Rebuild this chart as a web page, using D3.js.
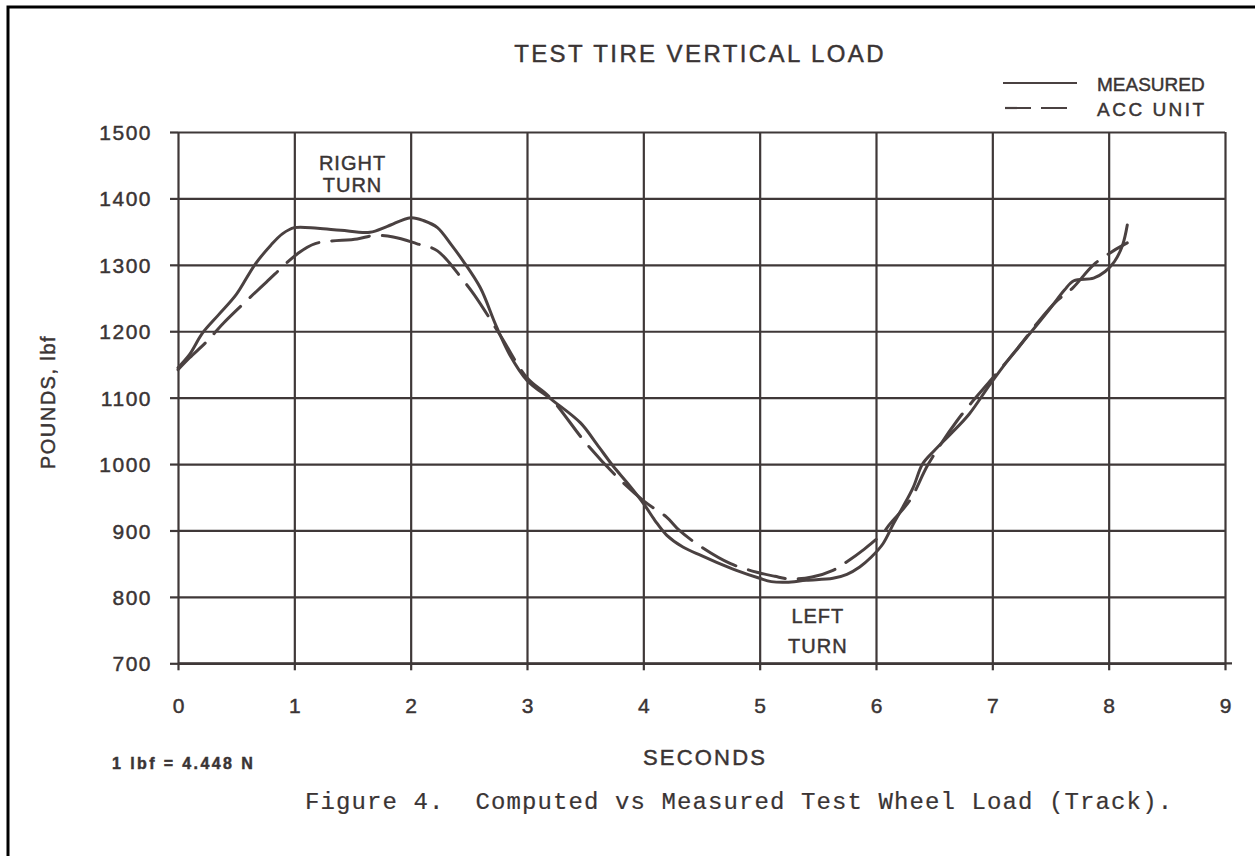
<!DOCTYPE html>
<html><head><meta charset="utf-8">
<script src="https://cdn.jsdelivr.net/npm/d3@7"></script>
<style>
html,body{margin:0;padding:0;background:#fff;}
svg{display:block;}
text{font-family:"Liberation Sans",Arial,sans-serif;fill:#3a3434;stroke:#3a3434;stroke-width:0.45px;}
</style></head>
<body>
<svg id="chart" width="1255" height="856"></svg>
<script>
// ---- data ----
const measuredT = [0.0,0.1,0.21,0.35,0.5,0.66,0.8,0.9,1.0,1.2,1.4,1.65,1.8,2.0,2.12,2.23,2.35,2.45,2.6,2.73,2.85,3.0,3.22,3.46,3.6,3.74,3.87,4.0,4.1,4.2,4.34,4.5,4.63,4.8,5.0,5.1,5.23,5.4,5.63,5.75,5.86,5.96,6.06,6.15,6.23,6.32,6.4,6.5,6.64,6.8,6.98,7.15,7.32,7.5,7.62,7.7,7.87,7.97,8.05,8.12,8.16];
const measuredLoad = [1145,1165,1197,1225,1255,1300,1330,1347,1356,1355,1352,1349,1358,1371,1366,1356,1330,1306,1265,1210,1165,1126,1096,1062,1030,997,970,941,915,893,875,862,852,840,828,823,822,825,828,834,845,860,880,910,935,965,1000,1020,1045,1075,1120,1160,1196,1235,1262,1276,1280,1290,1305,1330,1360];
const accT = [0.0,0.1,0.25,0.39,0.62,0.76,1.03,1.18,1.54,1.68,1.85,2.05,2.23,2.45,2.55,2.77,3.0,3.2,3.5,3.75,4.0,4.2,4.31,4.5,4.75,5.0,5.13,5.26,5.45,5.63,5.75,5.9,6.06,6.12,6.29,6.45,6.7,6.98,7.2,7.38,7.55,7.69,7.87,8.04,8.16];
const accLoad = [1142,1160,1185,1212,1251,1274,1317,1332,1339,1344,1342,1332,1321,1277,1254,1194,1130,1100,1033,985,945,920,900,875,850,836,831,827,830,840,853,872,896,910,945,1000,1066,1125,1170,1211,1245,1265,1300,1321,1333];
const xTicks = [0,1,2,3,4,5,6,7,8,9];
const yTicks = [700,800,900,1000,1100,1200,1300,1400,1500];
const seriesNames = ["MEASURED","ACC UNIT"];
const title = "TEST TIRE VERTICAL LOAD";
const xLabel = "SECONDS";
const yLabel = "POUNDS, lbf";
const noteText = "1 lbf = 4.448 N";
const captionText = "Figure 4.  Computed vs Measured Test Wheel Load (Track).";
const annotations = [
  {t:1.5, load:1443, lines:["RIGHT","TURN"], gap:22},
  {t:5.5, load:761, lines:["LEFT","TURN"], gap:30}
];

// ---- drawing ----
const ink = "#3f3838";
const svg = d3.select("#chart");
svg.append("rect").attr("width",1255).attr("height",856).attr("fill","#fff");

const x = d3.scaleLinear().domain([0,9]).range([178,1225]);
const y = d3.scaleLinear().domain([700,1500]).range([663.3,132]);

// page frame
svg.append("path").attr("d","M8,858 L8,7 L1257,7").attr("fill","none").attr("stroke","#000").attr("stroke-width",3);

// grid
const gGridX = svg.append("g").attr("transform",`translate(0,${y(700)})`)
  .call(d3.axisBottom(x).tickValues(xTicks).tickSize(-(y(700)-y(1500))).tickFormat(""));
const gGridY = svg.append("g").attr("transform",`translate(${x(0)},0)`)
  .call(d3.axisLeft(y).tickValues(yTicks).tickSize(-(x(9)-x(0))).tickFormat(""));
[gGridX,gGridY].forEach(g=>{
  g.select(".domain").remove();
  g.selectAll("line").attr("stroke",ink).attr("stroke-width",2.2);
});

// axes ticks + labels
const gx = svg.append("g").attr("transform",`translate(0,${y(700)})`)
  .call(d3.axisBottom(x).tickValues(xTicks).tickSize(7).tickFormat(d=>String(d)));
gx.select(".domain").attr("stroke",ink).attr("stroke-width",2.2).attr("d",`M${x(0)},0H${x(9)+7}`);
gx.selectAll("line").attr("stroke",ink).attr("stroke-width",2.2);
gx.selectAll("text").attr("dy",null).attr("y",50).attr("fill","#3a3434")
  .style("font-family","'Liberation Sans',Arial,sans-serif").style("font-size","21px");

const gy = svg.append("g").attr("transform",`translate(${x(0)},0)`)
  .call(d3.axisLeft(y).tickValues(yTicks).tickSize(8).tickPadding(18).tickFormat(d=>String(d)));
gy.select(".domain").remove();
gy.selectAll("line").attr("stroke",ink).attr("stroke-width",2.2);
gy.selectAll("text").attr("dy","0.36em").attr("fill","#3a3434")
  .style("font-family","'Liberation Sans',Arial,sans-serif").style("font-size","21px").style("letter-spacing","1.5px");

// curves
const line = d3.line().x(d=>x(d[0])).y(d=>y(d[1])).curve(d3.curveCatmullRom.alpha(0.5));
const measured = measuredT.map((t,i)=>[t,measuredLoad[i]]);
const acc = accT.map((t,i)=>[t,accLoad[i]]);
svg.append("path").datum(measured).attr("d",line).attr("fill","none")
  .attr("stroke","#4a4141").attr("stroke-width",3).attr("stroke-linejoin","round").attr("stroke-linecap","round");
svg.append("path").datum(acc).attr("d",line).attr("fill","none")
  .attr("stroke","#4a4141").attr("stroke-width",3).attr("stroke-dasharray","38,13").attr("stroke-linecap","round");

// annotations
annotations.forEach(a=>{
  const t = svg.append("text").attr("x",x(a.t)).attr("y",y(a.load)).attr("text-anchor","middle")
    .style("font-size","20px").style("letter-spacing","1px");
  a.lines.forEach((l,i)=>t.append("tspan").attr("x",x(a.t)).attr("dy",i===0?0:a.gap).text(l));
});

// title
svg.append("text").attr("x",700).attr("y",62).attr("text-anchor","middle")
  .style("font-size","24px").style("letter-spacing","2.4px").text(title);

// legend
const lg = svg.append("g");
lg.append("line").attr("x1",1003).attr("x2",1077).attr("y1",83).attr("y2",83).attr("stroke","#4a4141").attr("stroke-width",2.2);
lg.append("line").attr("x1",1005).attr("x2",1077).attr("y1",108).attr("y2",108).attr("stroke","#4a4141").attr("stroke-width",2.2).attr("stroke-dasharray","26,10");
lg.append("text").attr("x",1097).attr("y",91).style("font-size","19px").text(seriesNames[0]);
lg.append("text").attr("x",1097).attr("y",116).style("font-size","19px").style("letter-spacing","2.5px").text(seriesNames[1]);

// axis titles
svg.append("text").attr("x",705).attr("y",765).attr("text-anchor","middle")
  .style("font-size","22px").style("letter-spacing","2.2px").text(xLabel);
svg.append("text").attr("transform","translate(55,402) rotate(-90)").attr("text-anchor","middle")
  .style("font-size","20px").style("letter-spacing","1.5px").text(yLabel);

// note
svg.append("text").attr("x",112).attr("y",769).style("font-size","16px").style("font-weight","bold")
  .style("letter-spacing","2.4px").text(noteText);

// caption
svg.append("text").attr("x",305).attr("y",809).attr("xml:space","preserve")
  .style("font-family","'Liberation Mono','DejaVu Sans Mono',monospace").style("font-size","24px")
  .style("letter-spacing","1.1px").style("stroke-width","0.2px").style("white-space","pre").text(captionText);
</script>
</body></html>
